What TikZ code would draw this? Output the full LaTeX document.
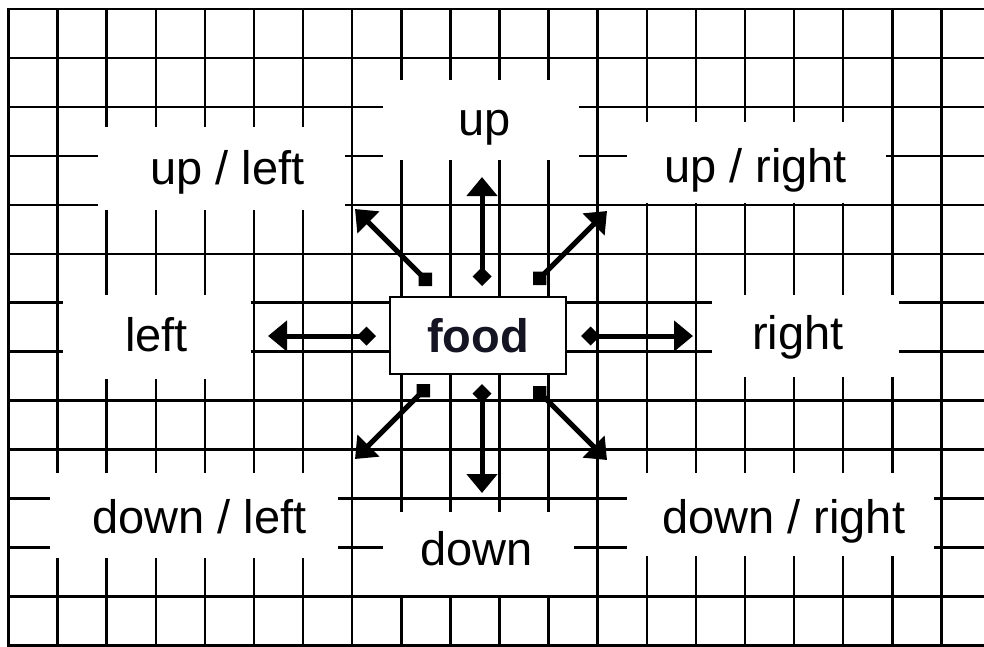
\documentclass[tikz,border=0pt]{standalone}
\usepackage{fontspec}
\setmainfont{Liberation Sans}
\usetikzlibrary{arrows.meta}
\definecolor{foodtext}{RGB}{20,20,35}
\begin{document}
\begin{tikzpicture}[x=1pt,y=-1pt,
  gridline/.style={line width=2.5pt, black, line cap=rect},
  blank/.style={fill=white},
  lbl/.style={anchor=base west, inner sep=0pt, font=\fontsize{47}{56}\selectfont},
  foodbox/.style={draw=black, line width=2.2pt, fill=white, minimum width=176pt, minimum height=77pt, inner sep=0pt, font=\fontsize{47}{56}\selectfont\bfseries, text=foodtext},
  dirarrow/.style={line width=5pt, {Turned Square[length=19pt,width=19pt]}-{Triangle[length=19pt,width=30pt]}}
]
\useasboundingbox[fill=white] (0,0) rectangle (984,646);
% grid
\foreach \i in {0,...,19} \draw[gridline] ({8.5+49.1*\i},9) -- ({8.5+49.1*\i},646);
\foreach \j in {0,...,13} \draw[gridline] (8.5,{9+48.95*\j}) -- (984,{9+48.95*\j});
% white label areas
\fill[blank] (98,127) rectangle (345,210);
\fill[blank] (383,80) rectangle (579,160);
\fill[blank] (627,122) rectangle (886,203);
\fill[blank] (63,295) rectangle (251,379);
\fill[blank] (712,295) rectangle (899,377);
\fill[blank] (50,473) rectangle (338,558);
\fill[blank] (383,512) rectangle (574,595);
\fill[blank] (627,473) rectangle (934,556);
% labels
\node[lbl] (tul) at (150,184) {up / left};
\node[lbl] (tu)  at (458,135) {up};
\node[lbl] (tur) at (664,182) {up / right};
\node[lbl] (tl)  at (125,351) {left};
\node[lbl] (tr)  at (752,349) {right};
\node[lbl] (tdl) at (92,533)  {down / left};
\node[lbl] (td)  at (420,565) {down};
\node[lbl] (tdr) at (662,533) {down / right};
% food
\node[foodbox] (food) at (478,335.5) {food};
% arrow ends
\coordinate (ulS) at (432,286); \coordinate (ulE) at (355,209);
\coordinate (uS)  at (482,286); \coordinate (uE)  at (482,177);
\coordinate (urS) at (533,285); \coordinate (urE) at (607,211);
\coordinate (lS)  at (376,336); \coordinate (lE)  at (268,336);
\coordinate (rS)  at (581,336); \coordinate (rE)  at (693,336);
\coordinate (dlS) at (430,384); \coordinate (dlE) at (355,459);
\coordinate (dS)  at (482,384); \coordinate (dE)  at (482,493);
\coordinate (drS) at (533,386); \coordinate (drE) at (607,460);
\draw[dirarrow] (ulS) -- (ulE);
\draw[dirarrow] (uS) -- (uE);
\draw[dirarrow] (urS) -- (urE);
\draw[dirarrow] (lS) -- (lE);
\draw[dirarrow] (rS) -- (rE);
\draw[dirarrow] (dlS) -- (dlE);
\draw[dirarrow] (dS) -- (dE);
\draw[dirarrow] (drS) -- (drE);
\end{tikzpicture}
\end{document}
